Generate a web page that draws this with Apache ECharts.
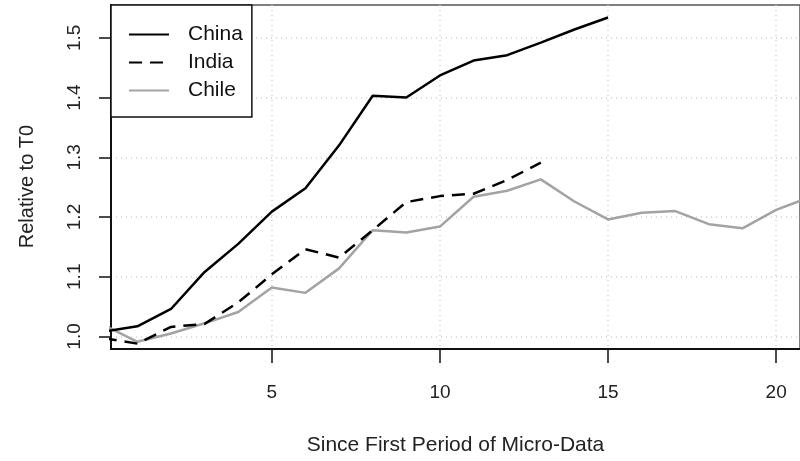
<!DOCTYPE html>
<html>
<head>
<meta charset="utf-8">
<script src="https://cdn.jsdelivr.net/npm/echarts@6/dist/echarts.min.js"></script>
<style>html,body{margin:0;padding:0;background:#fff}#c{width:800px;height:461px}</style>
</head>
<body>
<div id="c"></div>
<script>
var chinaValues = [1.008, 1.017, 1.046, 1.108, 1.155, 1.209, 1.248, 1.320, 1.403, 1.400, 1.437, 1.462, 1.471, 1.492, 1.514, 1.534];
var indiaValues = [0.997, 0.988, 1.016, 1.021, 1.057, 1.104, 1.146, 1.132, 1.178, 1.225, 1.235, 1.239, 1.262, 1.291];
var chileValues = [1.019, 0.991, 1.005, 1.022, 1.041, 1.082, 1.073, 1.114, 1.178, 1.174, 1.184, 1.234, 1.244, 1.263, 1.226, 1.196, 1.207, 1.210, 1.188, 1.181, 1.212, 1.233];
var seriesNames = ['China', 'India', 'Chile'];
var xTicks = [5, 10, 15, 20];
var yTicks = [1.0, 1.1, 1.2, 1.3, 1.4, 1.5];

var FONT = "'Liberation Sans', Arial, Helvetica, sans-serif";
function pairs(vals) { return vals.map(function (v, i) { return [i, v]; }); }

var chart = echarts.init(document.getElementById('c'), null, { renderer: 'canvas' });
chart.setOption({
  animation: false,
  backgroundColor: '#fff',
  grid: { left: 111, top: 5, right: -5, bottom: 112, show: true, borderColor: '#555', borderWidth: 1.5, containLabel: false },
  xAxis: {
    type: 'value', min: 0.2155, max: 20.71,
    name: 'Since First Period of Micro-Data', nameLocation: 'middle', nameGap: 86,
    nameTextStyle: { fontFamily: FONT, fontSize: 21, color: '#222' },
    axisLine: { show: true, lineStyle: { color: '#111', width: 2 } },
    axisTick: { show: true, length: 14, customValues: xTicks, lineStyle: { color: '#111', width: 1.5 } },
    axisLabel: { customValues: xTicks, margin: 34, fontFamily: FONT, fontSize: 19, color: '#222' },
    splitLine: { show: true, lineStyle: { color: '#cfcfcf', type: [1, 4], width: 1.5 } }
  },
  yAxis: {
    type: 'value', min: 0.979, max: 1.555,
    name: 'Relative to T0', nameLocation: 'middle', nameGap: 74,
    nameTextStyle: { fontFamily: FONT, fontSize: 20, color: '#222', padding: [0, 19, 0, 0] },
    axisLine: { show: true, lineStyle: { color: '#111', width: 2 } },
    axisTick: { show: true, length: 12, customValues: yTicks, lineStyle: { color: '#111', width: 1.5 } },
    axisLabel: { customValues: yTicks, rotate: 90, margin: 27, fontFamily: FONT, fontSize: 19, color: '#222',
      formatter: function (v) { return Number(v).toFixed(1); } },
    splitLine: { show: true, lineStyle: { color: '#cfcfcf', type: [1, 4], width: 1.5 } }
  },
  legend: {
    left: 111, top: 5, orient: 'vertical',
    itemWidth: 40, itemHeight: 14, itemGap: 7,
    padding: [19, 9, 16, 17],
    borderColor: '#111', borderWidth: 1.5, backgroundColor: '#fff',
    itemStyle: { opacity: 0 },
    textStyle: { fontFamily: FONT, fontSize: 21, color: '#111', padding: [0, 0, 0, 14] },
    data: seriesNames
  },
  series: [
    { name: seriesNames[0], type: 'line', symbol: 'none', data: pairs(chinaValues), z: 3,
      lineStyle: { color: '#000', width: 2.5 }, itemStyle: { color: '#000' } },
    { name: seriesNames[1], type: 'line', symbol: 'none', data: pairs(indiaValues), z: 3,
      lineStyle: { color: '#000', width: 2.5, type: [13, 8] }, itemStyle: { color: '#000' } },
    { name: seriesNames[2], type: 'line', symbol: 'none', data: pairs(chileValues), z: 2,
      lineStyle: { color: '#a3a3a3', width: 2.5 }, itemStyle: { color: '#a3a3a3' } }
  ]
});
</script>
</body>
</html>
